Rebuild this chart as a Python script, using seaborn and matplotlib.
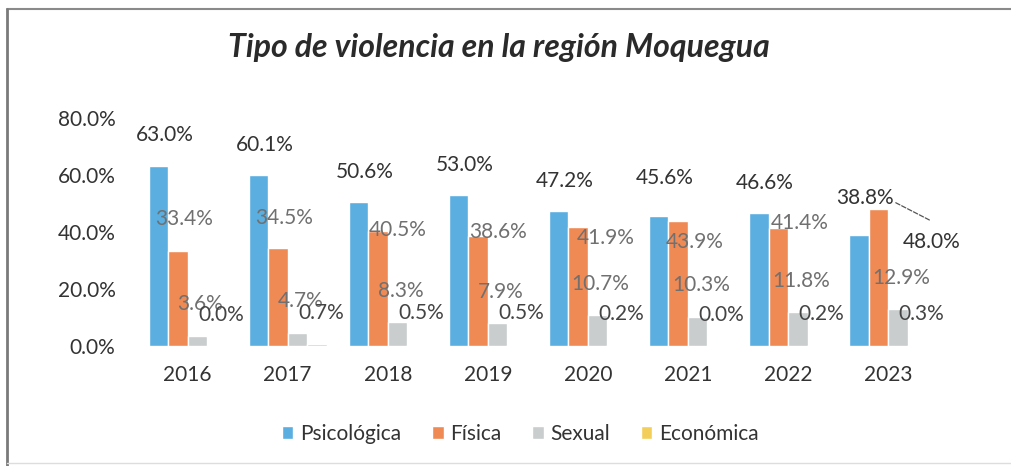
import pandas as pd
import seaborn as sns
import matplotlib.pyplot as plt
from matplotlib.lines import Line2D
from matplotlib.ticker import FuncFormatter

# data (percent)
years = ['2016', '2017', '2018', '2019', '2020', '2021', '2022', '2023']
tipos = ['Psicológica', 'Física', 'Sexual', 'Económica']
psicologica = [63.0, 60.1, 50.6, 53.0, 47.2, 45.6, 46.6, 38.8]
fisica = [33.4, 34.5, 40.5, 38.6, 41.9, 43.9, 41.4, 48.0]
sexual = [3.6, 4.7, 8.3, 7.9, 10.7, 10.3, 11.8, 12.9]
economica = [0.0, 0.7, 0.5, 0.5, 0.2, 0.0, 0.2, 0.3]

colores = ['#5aaee0', '#ef8a55', '#c9cdce', '#f3cf5a']
label_colors = ['#333333', '#707070', '#707070', '#444444']

# label placement (dx in category units, dy in % above the bar top)
lab_dx = [[0.06] * 8,
          [0.06, 0.06, 0.20, 0.20, 0.28, 0.16, 0.21, 0.53],
          [0.03] * 8,
          [0.04] * 8]
lab_dy = [[11, 10.4, 10.4, 10.5, 10.8, 13.4, 10.4, 13.2],
          [11, 10.5, 0.2, 1.4, -4, -7.4, 1.6, -11.5],
          [11] * 8,
          [11] * 8]

df = pd.DataFrame({'Año': years * 4,
                   'Tipo': [t for t in tipos for _ in years],
                   'Valor': psicologica + fisica + sexual + economica})

sns.set_theme(style='white')
plt.rcParams['font.family'] = ['Lato', 'DejaVu Sans']

fig = plt.figure(figsize=(10.12, 4.66), dpi=100)
ax = fig.add_axes([0.136, 0.2575, 0.791, 0.4895])

sns.barplot(data=df, x='Año', y='Valor', hue='Tipo', palette=colores,
            width=0.78, gap=0, ax=ax, saturation=1)

ax.set_ylim(0, 80)
ax.set_yticks([0, 20, 40, 60, 80])
ax.yaxis.set_major_formatter(FuncFormatter(lambda v, p: f'{v:.1f}%'))
ax.set_xlabel('')
ax.set_ylabel('')
ax.tick_params(axis='both', length=0, labelsize=15, colors='#333333')
ax.tick_params(axis='x', pad=14)
ax.tick_params(axis='y', pad=16)
for s in ax.spines.values():
    s.set_visible(False)

# data labels
for i, cont in enumerate(ax.containers):
    for j, bar in enumerate(cont):
        h = bar.get_height()
        x = bar.get_x() + bar.get_width() / 2
        col = '#333333' if (i == 1 and j == 7) else label_colors[i]
        ax.text(x + lab_dx[i][j], h + lab_dy[i][j], f'{h:.1f}%', ha='center',
                va='center', fontsize=15, color=col)

# leader line for the moved 2023 label
b = ax.containers[1][7]
bx = b.get_x() + b.get_width() / 2
bh = b.get_height()
ax.annotate('', xy=(bx + 0.16, bh + 2.5), xytext=(bx + 0.51, bh - 3.8),
            arrowprops=dict(arrowstyle='-', color='#555555', lw=0.9, ls='--',
                            shrinkA=0, shrinkB=0))

handles, labels = ax.get_legend_handles_labels()
ax.get_legend().remove()
fig.legend(handles, labels, loc='center', bbox_to_anchor=(0.514, 0.069), ncol=4,
           frameon=False, fontsize=15, handlelength=0.55, handleheight=0.55,
           handletextpad=0.3, columnspacing=1.5, labelcolor='#333333')

fig.suptitle('Tipo de violencia en la región Moquegua', x=0.493, y=0.899, va='center',
             fontsize=23, fontweight='bold', fontstyle='italic', color='#2a2a2a')

# chart frame (top and left edges visible, bottom faint)
fig.add_artist(Line2D([0.007, 1.0], [0.981, 0.981], transform=fig.transFigure,
                      color='#8a8a8a', lw=1.5))
fig.add_artist(Line2D([0.007, 0.007], [0.0, 0.981], transform=fig.transFigure,
                      color='#7a7a7a', lw=2))
fig.add_artist(Line2D([0.007, 1.0], [0.007, 0.007], transform=fig.transFigure,
                      color='#dddddd', lw=1))

fig.savefig('out.png', dpi=100)
